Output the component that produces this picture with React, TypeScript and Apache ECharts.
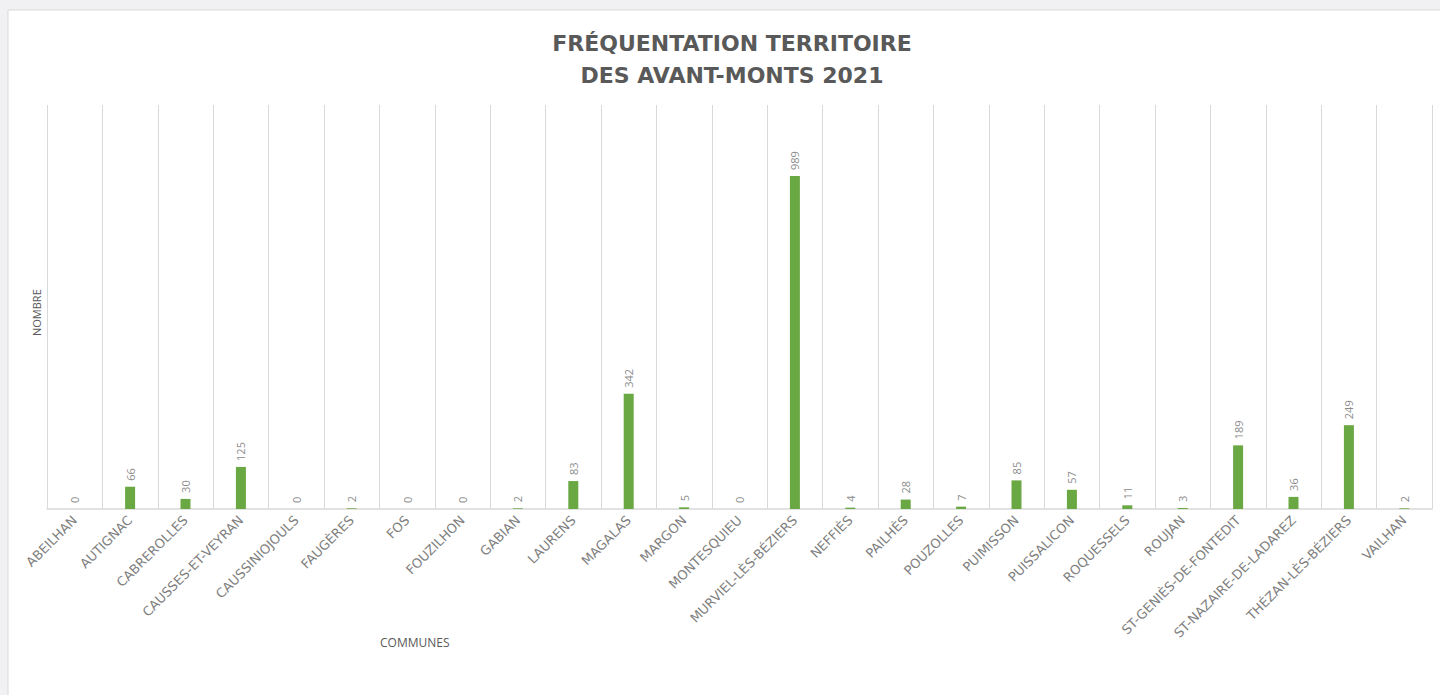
import React, { useEffect, useRef } from "react";
import * as echarts from "echarts";

const categories = [
  "ABEILHAN", "AUTIGNAC", "CABREROLLES", "CAUSSES-ET-VEYRAN", "CAUSSINIOJOULS",
  "FAUGÈRES", "FOS", "FOUZILHON", "GABIAN", "LAURENS", "MAGALAS", "MARGON",
  "MONTESQUIEU", "MURVIEL-LÈS-BÉZIERS", "NEFFIÈS", "PAILHÈS", "POUZOLLES",
  "PUIMISSON", "PUISSALICON", "ROQUESSELS", "ROUJAN", "ST-GENIÈS-DE-FONTEDIT",
  "ST-NAZAIRE-DE-LADAREZ", "THÉZAN-LÈS-BÉZIERS", "VAILHAN",
];
const values = [0, 66, 30, 125, 0, 2, 0, 0, 2, 83, 342, 5, 0, 989, 4, 28, 7, 85, 57, 11, 3, 189, 36, 249, 2];
const titleText = "FRÉQUENTATION TERRITOIRE\nDES AVANT-MONTS 2021";
const xName = "COMMUNES";
const yName = "NOMBRE";

export default function App() {
  const ref = useRef<HTMLDivElement>(null);
  useEffect(() => {
    const chart = echarts.init(ref.current!, null, { renderer: "svg" });
    chart.setOption({
      animation: false,
      backgroundColor: "#f1f1f3",
      graphic: [
        {
          type: "rect",
          shape: { x: 8, y: 10, width: 1440, height: 700 },
          style: { fill: "#ffffff", stroke: "#d9d9d9", lineWidth: 1 },
          z: -10,
          silent: true,
        },
        {
          type: "text",
          left: 380,
          top: 636,
          style: { text: xName, fill: "#595959", font: "12px 'Open Sans'" },
        },
        {
          type: "text",
          x: 31,
          y: 336,
          rotation: Math.PI / 2,
          style: { text: yName, fill: "#595959", font: "11px 'Open Sans'" },
        },
      ],
      title: {
        text: titleText,
        left: 727,
        textAlign: "center",
        top: 22,
        textStyle: {
          fontFamily: "DejaVu Sans",
          fontWeight: "bold",
          fontSize: 22,
          color: "#595959",
          lineHeight: 32,
        },
      },
      grid: { left: 47, right: 8, top: 105, bottom: 186, containLabel: false },
      xAxis: {
        type: "category",
        data: categories,
        axisLine: { lineStyle: { color: "#d9d9d9", width: 1.5 } },
        axisTick: { show: false },
        splitLine: { show: true, lineStyle: { color: "#d9d9d9", width: 1 } },
        axisLabel: {
          rotate: 45,
          interval: 0,
          color: "#7f7f7f",
          fontFamily: "DejaVu Sans",
          fontSize: 13,
          margin: 9,
        },
      },
      yAxis: {
        type: "value",
        min: 0,
        max: 1200,
        axisLine: { show: false },
        axisTick: { show: false },
        axisLabel: { show: false },
        splitLine: { show: false },
      },
      series: [
        {
          type: "bar",
          data: values,
          barWidth: 10,
          itemStyle: { color: "#6aa843" },
          label: {
            show: true,
            position: "top",
            rotate: 90,
            align: "left",
            verticalAlign: "middle",
            distance: 6,
            color: "#8c8c8c",
            fontFamily: "'Open Sans'",
            fontSize: 11,
          },
        },
      ],
    });
    return () => chart.dispose();
  }, []);
  return (
    <div
      ref={ref}
      style={{ position: "absolute", left: 0, top: 0, width: 1440, height: 695 }}
    />
  );
}
